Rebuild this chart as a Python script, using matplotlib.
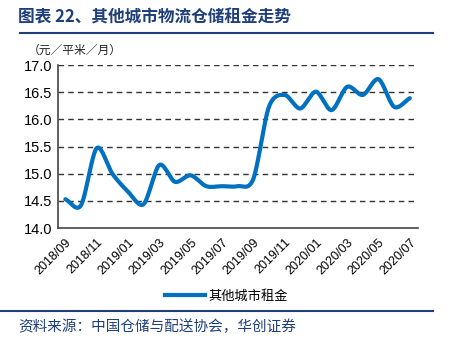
import numpy as np
import matplotlib
matplotlib.use("Agg")
import matplotlib.pyplot as plt
from matplotlib.lines import Line2D

plt.rcParams['font.family'] = ['Liberation Sans', 'Noto Sans CJK SC', 'DejaVu Sans']

months = ["2018/09", "2018/10", "2018/11", "2018/12", "2019/01", "2019/02", "2019/03", "2019/04",
          "2019/05", "2019/06", "2019/07", "2019/08", "2019/09", "2019/10", "2019/11", "2019/12",
          "2020/01", "2020/02", "2020/03", "2020/04", "2020/05", "2020/06", "2020/07"]
rent = [14.53, 14.42, 15.47, 15.00, 14.67, 14.44, 15.16, 14.85, 14.97, 14.77, 14.77, 14.77,
        14.90, 16.23, 16.45, 16.20, 16.51, 16.17, 16.60, 16.45, 16.74, 16.23, 16.39]
series_name = "其他城市租金"
title = "图表 22、其他城市物流仓储租金走势"
unit = "（元／平米／月）"
source = "资料来源：中国仓储与配送协会，华创证券"


def smooth(xs, ys, n=20):
    # Catmull-Rom style smoothing for display (like Excel smoothed line)
    xs = np.asarray(xs, float); ys = np.asarray(ys, float)
    px = np.concatenate([[2 * xs[0] - xs[1]], xs, [2 * xs[-1] - xs[-2]]])
    py = np.concatenate([[2 * ys[0] - ys[1]], ys, [2 * ys[-1] - ys[-2]]])
    ox, oy = [], []
    t = np.linspace(0, 1, n, endpoint=False)
    for i in range(1, len(px) - 2):
        for arr, out in ((px, ox), (py, oy)):
            p0, p1, p2, p3 = arr[i - 1], arr[i], arr[i + 1], arr[i + 2]
            m1 = (p2 - p0) / 2 * 0.9
            m2 = (p3 - p1) / 2 * 0.9
            h00 = 2 * t**3 - 3 * t**2 + 1
            h10 = t**3 - 2 * t**2 + t
            h01 = -2 * t**3 + 3 * t**2
            h11 = t**3 - t**2
            out.extend(h00 * p1 + h10 * m1 + h01 * p2 + h11 * m2)
    ox.append(xs[-1]); oy.append(ys[-1])
    return np.array(ox), np.array(oy)


fig = plt.figure(figsize=(4.53, 3.46), dpi=100)
ax = fig.add_axes([0.127, 0.341, 0.795, 0.471])

x = np.arange(len(months))
sx, sy = smooth(x, rent)
ax.plot(sx, sy, color='#0070C0', lw=3.0, solid_capstyle='round', zorder=3)

ax.set_xlim(-0.5, len(months) - 0.5)
ax.set_ylim(14.0, 17.0)
ax.set_yticks(np.arange(14.0, 17.01, 0.5))
ax.set_yticklabels([f"{v:.1f}" for v in np.arange(14.0, 17.01, 0.5)], fontsize=10.5)
ax.set_xticks(x[::2])
ax.set_xticklabels(months[::2], rotation=45, ha='right', rotation_mode='anchor', fontsize=9)
ax.tick_params(length=0, pad=4)
ax.tick_params(axis='x', pad=6)
for v in np.arange(14.5, 17.01, 0.5):
    ax.axhline(v, color='#333333', lw=1.0, ls=(0, (4, 3)), zorder=1)
for s in ['top', 'right']:
    ax.spines[s].set_visible(False)
for s in ['left', 'bottom']:
    ax.spines[s].set_color('#444444')
    ax.spines[s].set_linewidth(1.2)

navy = '#1F3F7A'
fig.text(0.04, 0.948, title, fontsize=12, fontweight='bold', color=navy,
         family=['Noto Sans CJK SC', 'DejaVu Sans'], va='center')
fig.add_artist(Line2D([0.044, 0.956], [0.905, 0.905], color=navy, lw=1.5))
fig.text(0.062, 0.855, unit, fontsize=8.5, color='#222222',
         family=['Noto Sans CJK SC', 'DejaVu Sans'], va='center')

leg_handle = Line2D([], [], color='#0070C0', lw=3)
fig.legend([leg_handle], [series_name], loc='center', bbox_to_anchor=(0.5, 0.145), frameon=False,
           prop={'family': ['Noto Sans CJK SC', 'DejaVu Sans'], 'size': 9.5}, handlelength=3.0,
           handletextpad=0.3)
fig.add_artist(Line2D([0.0, 0.955], [0.1, 0.1], color=navy, lw=1.5))
fig.text(0.04, 0.057, source, fontsize=10.5, color=navy, style='italic',
         family=['Noto Sans CJK SC', 'DejaVu Sans'], va='center')

fig.savefig('out.png', dpi=100)
